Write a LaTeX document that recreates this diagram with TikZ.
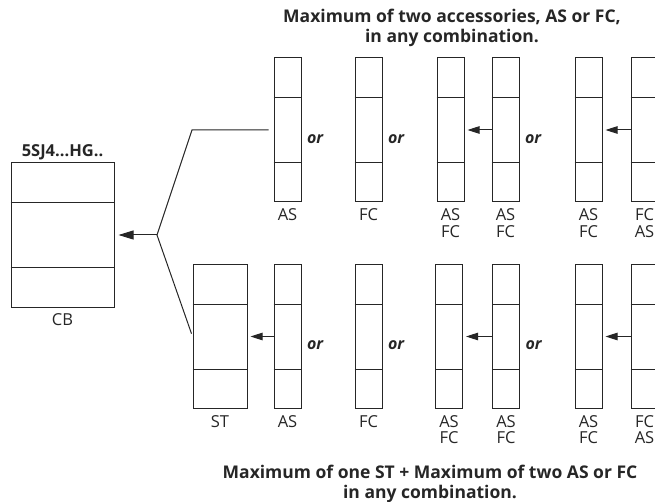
\documentclass[tikz,border=0pt]{standalone}
\usepackage{fontspec}
\setmainfont{Open Sans}
\usetikzlibrary{positioning,arrows.meta}

\tikzset{
    slot/.style={draw, minimum width=27pt, minimum height=144pt, inner sep=0pt},
    wideslot/.style={slot, minimum width=54pt},
    cbslot/.style={slot, minimum width=103pt},
    tag/.style={inner sep=0pt, align=center, font=\fontsize{16.5}{16.5}\selectfont},
    ortag/.style={inner sep=0pt, font=\fontsize{16}{16}\selectfont\bfseries\itshape},
    heading/.style={inner sep=0pt, align=center, font=\fontsize{17.5}{20}\selectfont\bfseries},
    push/.style={-{Triangle[length=12pt,width=7.5pt]}, shorten >=3pt}
}

\begin{document}
\begin{tikzpicture}[x=1pt, y=-1pt, line width=1pt, color=black!85]
    \useasboundingbox (0,0) rectangle (655,502);
    \clip (0,0) rectangle (655,502);

    % breaker and modules
    \node[cbslot] (CB) at (62.5,235) {};
    \node[wideslot] (ST) at (220,336.5) {};

    \node[slot] (T1) at (287.5,130) {};
    \node[slot] (T2) at (368.5,130) {};
    \node[slot] (T3) at (450.5,130) {};
    \node[slot] (T4) at (505.5,130) {};
    \node[slot] (T5) at (588.5,130) {};
    \node[slot] (T6) at (644.5,130) {};

    \node[slot] (B1) at (287.5,336.5) {};
    \node[slot] (B2) at (368.5,336.5) {};
    \node[slot] (B3) at (449,336.5) {};
    \node[slot] (B4) at (506,336.5) {};
    \node[slot] (B5) at (588.5,336.5) {};
    \node[slot] (B6) at (644.5,336.5) {};

    \foreach \m in {CB,ST,T1,T2,T3,T4,T5,T6,B1,B2,B3,B4,B5,B6}
        \draw ([yshift=-40pt]\m.north west) -- ([yshift=-40pt]\m.north east)
              ([yshift=40pt]\m.south west) -- ([yshift=40pt]\m.south east);

    % fork to the breaker
    \coordinate (BR) at (157,235);
    \coordinate (UP) at (192,130);
    \draw [shorten <=5pt, shorten >=3pt] (T1.west) -- (UP) -- (BR) -- (ST.west);
    \draw [-{Triangle[length=15pt,width=9pt]}, shorten >=4pt] (BR) -- (CB.east);

    \draw [push] (T4.west) -- (T3.east);
    \draw [push] (T6.west) -- (T5.east);
    \draw [push] (B1.west) -- (ST.east);
    \draw [push] (B4.west) -- (B3.east);
    \draw [push] (B6.west) -- (B5.east);

    % labels
    \node[tag, above=2pt of CB, font=\fontsize{16.5}{16.5}\selectfont\bfseries] (CBt) {5SJ4...HG..};
    \node[tag, below=6pt of CB] (CBl) {CB};
    \node[tag, below=6pt of ST] (STl) {ST};

    \node[tag, below=6pt of T1] (T1l) {AS};
    \node[tag, below=6pt of T2] (T2l) {FC};
    \node[tag, below=6pt of T3] (T3l) {AS\\FC};
    \node[tag, below=6pt of T4] (T4l) {AS\\FC};
    \node[tag, below=6pt of T5] (T5l) {AS\\FC};
    \node[tag, below=6pt of T6] (T6l) {FC\\AS};

    \node[tag, below=6pt of B1] (B1l) {AS};
    \node[tag, below=6pt of B2] (B2l) {FC};
    \node[tag, below=6pt of B3] (B3l) {AS\\FC};
    \node[tag, below=6pt of B4] (B4l) {AS\\FC};
    \node[tag, below=6pt of B5] (B5l) {AS\\FC};
    \node[tag, below=6pt of B6] (B6l) {FC\\AS};

    \foreach \m in {T1,T2,T4,B1,B2,B4}
        \node[ortag, right=5pt of \m.east, yshift=-9pt] (\m o) {or};

    \node[heading] (TOPt) at (452,28) {Maximum of two accessories, AS or FC,\\in any combination.};
    \node[heading] (BOTt) at (430,484) {Maximum of one ST + Maximum of two AS or FC\\in any combination.};
\end{tikzpicture}
\end{document}
